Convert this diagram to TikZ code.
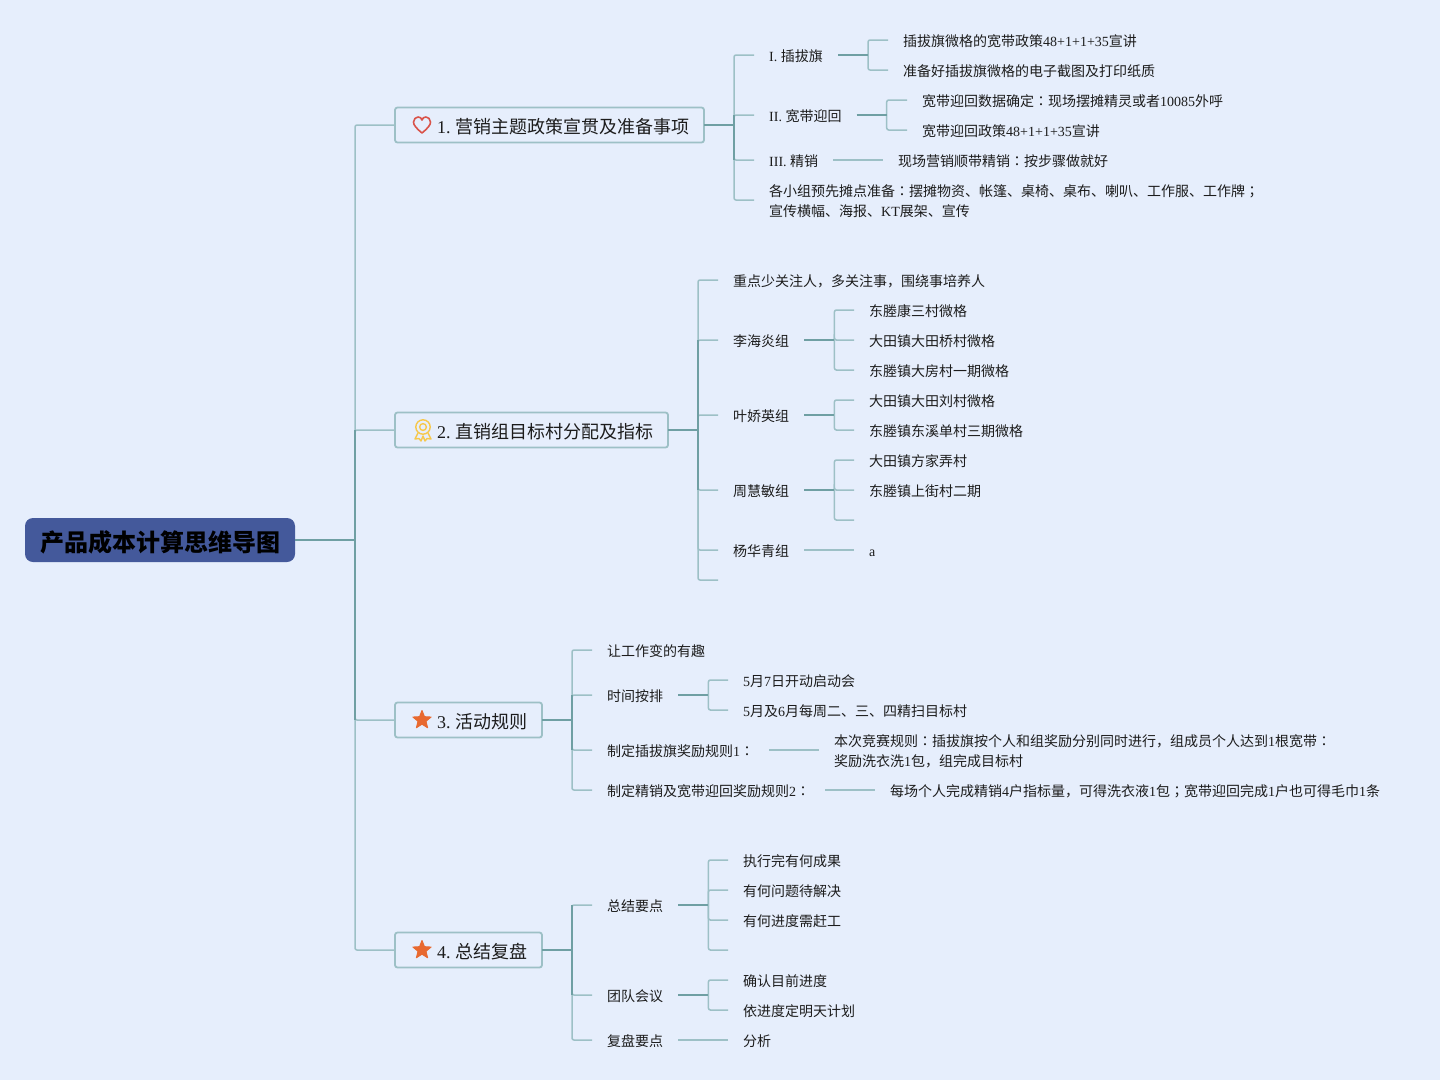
\documentclass[tikz,border=0pt]{standalone}
\usepackage{fontspec}
\setmainfont{Noto Sans CJK SC}
\newfontfamily\tnrfont{Liberation Serif}
\newfontfamily\clnfont{Noto Sans CJK TC}
\newcommand{\tn}[1]{{\tnrfont\frenchspacing #1}}
\newcommand{\cln}{{\clnfont ：}}
\newcommand{\sem}{{\clnfont ；}}
\usetikzlibrary{shapes.geometric}
\definecolor{pagebg}{HTML}{E6EEFC}
\definecolor{linklight}{HTML}{9DC0C6}
\definecolor{linkdark}{HTML}{6F9FA3}
\definecolor{rootfill}{HTML}{44599B}
\definecolor{inkcol}{HTML}{1C1C1C}
\definecolor{heartcol}{HTML}{D9534A}
\definecolor{medalcol}{HTML}{F6C84C}
\definecolor{starcol}{HTML}{E8692F}
\begin{document}
\begin{tikzpicture}[
        x=1pt,
        y=-1pt,
        text=inkcol
    ]
    \tikzset{
        rootnode/.style = {rectangle, rounded corners=8pt, fill=rootfill, text=black, anchor=west, outer sep=0pt,
            minimum height=44pt, inner xsep=15pt, inner ysep=0pt, text height=26pt, text depth=4pt,
            font=\fontsize{24}{28}\selectfont\bfseries},
        topicnode/.style = {rectangle, rounded corners=2.5pt, draw=linklight, line width=1.8pt, fill=pagebg, anchor=west, outer sep=0pt,
            minimum height=35pt, inner xsep=15pt, inner ysep=0pt, text height=20pt, text depth=2.3pt,
            font=\fontsize{18}{22}\selectfont},
        leafnode/.style = {anchor=west, inner xsep=15pt, inner ysep=0pt, text height=14pt, text depth=1.4pt,
            align=left, font=\fontsize{14}{20}\selectfont},
        twolines/.style = {text height=34pt},
        markstar/.style = {star, star points=5, star point ratio=2.3, minimum size=19pt, inner sep=0pt, fill=starcol, draw=starcol,
            line width=1pt, line join=round},
        linkl/.style = {draw=linklight, line width=1.5pt, rounded corners=2pt},
        linkd/.style = {draw=linkdark, line width=2pt},
        linkm/.style = {draw=linkdark, line width=1.5pt},
    }
    \fill[pagebg] (0,0) rectangle (1440,1080);
    \useasboundingbox (0,0) rectangle (1440,1080);
    %
    \node[rootnode, minimum width=270pt] at (25,540) (root) {产品成本计算思维导图};
    \node[topicnode] at (395,125) (ta) {\hspace{27pt}\tn{1. }营销主题政策宣贯及准备事项};
    \node[topicnode] at (395,430) (tb) {\hspace{27pt}\tn{2. }直销组目标村分配及指标};
    \node[topicnode] at (395,720) (tc) {\hspace{27pt}\tn{3. }活动规则};
    \node[topicnode] at (395,950) (td) {\hspace{27pt}\tn{4. }总结复盘};
    %
    \draw[line width=1.6pt, draw=heartcol, line join=round] (422,133) .. controls (416,128) and (413.5,125) .. (413.5,122)
        .. controls (413.5,119) and (416,117) .. (418,117) .. controls (420,117) and (421.5,118) .. (422,120)
        .. controls (422.5,118) and (424,117) .. (426,117) .. controls (428,117) and (430.5,119) .. (430.5,122)
        .. controls (430.5,125) and (428,128) .. (422,133) -- cycle;
    \draw[line width=1.4pt, draw=medalcol] (423,427) circle (7.2) (423,427) circle (3.4);
    \draw[line width=1.4pt, draw=medalcol, line join=round] (418,433) -- (415,439) -- (419,438.5) -- (421,441) -- (423,436)
        -- (425,441) -- (427,438.5) -- (431,439) -- (428,433);
    \node[markstar] at (422,720) (tcstar) {};
    \node[markstar] at (422,950) (tdstar) {};
    %
    \node[leafnode] at (754,55) (a1) {\tn{I. }插拔旗};
    \node[leafnode] at (754,115) (a2) {\tn{II. }宽带迎回};
    \node[leafnode] at (754,160) (a3) {\tn{III. }精销};
    \node[leafnode, twolines] at (754,200) (a4) {各小组预先摊点准备\cln 摆摊物资、帐篷、桌椅、桌布、喇叭、工作服、工作牌\sem\\宣传横幅、海报、\tn{KT}展架、宣传};
    \node[leafnode] at (888,40) (a11) {插拔旗微格的宽带政策\tn{48+1+1+35}宣讲};
    \node[leafnode] at (888,70) (a12) {准备好插拔旗微格的电子截图及打印纸质};
    \node[leafnode] at (907,100) (a21) {宽带迎回数据确定\cln 现场摆摊精灵或者\tn{10085}外呼};
    \node[leafnode] at (907,130) (a22) {宽带迎回政策\tn{48+1+1+35}宣讲};
    \node[leafnode] at (883,160) (a31) {现场营销顺带精销\cln 按步骤做就好};
    %
    \node[leafnode] at (718,280) (b1) {重点少关注人，多关注事，围绕事培养人};
    \node[leafnode] at (718,340) (b2) {李海炎组};
    \node[leafnode] at (718,415) (b3) {叶娇英组};
    \node[leafnode] at (718,490) (b4) {周慧敏组};
    \node[leafnode] at (718,550) (b5) {杨华青组};
    \coordinate (b6) at (718,580);
    \node[leafnode] at (854,310) (b21) {东塍康三村微格};
    \node[leafnode] at (854,340) (b22) {大田镇大田桥村微格};
    \node[leafnode] at (854,370) (b23) {东塍镇大房村一期微格};
    \node[leafnode] at (854,400) (b31) {大田镇大田刘村微格};
    \node[leafnode] at (854,430) (b32) {东塍镇东溪单村三期微格};
    \node[leafnode] at (854,460) (b41) {大田镇方家弄村};
    \node[leafnode] at (854,490) (b42) {东塍镇上街村二期};
    \coordinate (b43) at (854,520);
    \node[leafnode] at (854,550) (b51) {\tn{a}};
    %
    \node[leafnode] at (592,650) (c1) {让工作变的有趣};
    \node[leafnode] at (592,695) (c2) {时间按排};
    \node[leafnode] at (592,750) (c3) {制定插拔旗奖励规则\tn{1}\cln};
    \node[leafnode] at (592,790) (c4) {制定精销及宽带迎回奖励规则\tn{2}\cln};
    \node[leafnode] at (728,680) (c21) {\tn{5}月\tn{7}日开动启动会};
    \node[leafnode] at (728,710) (c22) {\tn{5}月及\tn{6}月每周二、三、四精扫目标村};
    \node[leafnode, twolines] at (819,750) (c31) {本次竞赛规则\cln 插拔旗按个人和组奖励分别同时进行，组成员个人达到\tn{1}根宽带\cln\\奖励洗衣洗\tn{1}包，组完成目标村};
    \node[leafnode] at (875,790) (c41) {每场个人完成精销\tn{4}户指标量，可得洗衣液\tn{1}包\sem 宽带迎回完成\tn{1}户也可得毛巾\tn{1}条};
    %
    \node[leafnode] at (592,905) (d1) {总结要点};
    \node[leafnode] at (592,995) (d2) {团队会议};
    \node[leafnode] at (592,1040) (d3) {复盘要点};
    \node[leafnode] at (728,860) (d11) {执行完有何成果};
    \node[leafnode] at (728,890) (d12) {有何问题待解决};
    \node[leafnode] at (728,920) (d13) {有何进度需赶工};
    \coordinate (d14) at (728,950);
    \node[leafnode] at (728,980) (d21) {确认目前进度};
    \node[leafnode] at (728,1010) (d22) {依进度定明天计划};
    \node[leafnode] at (728,1040) (d31) {分析};
    %
    \foreach \kid in {ta,tb,tc,td} {
        \draw[linkl] (\kid.west) -| ([xshift=60pt]root.east);
    }
    \draw[linkm] ([xshift=-40pt]tb.west) -- ([xshift=-40pt]tc.west);
    \draw[linkd] (root.east) -- ++(60,0);
    %
    \foreach \kid in {a1,a2,a3,a4} {
        \draw[linkl] (\kid.west) -| ([xshift=30pt]ta.east);
    }
    \draw[linkm] ([xshift=-20pt]a2.west) -- ([xshift=-20pt]a3.west);
    \draw[linkd] (ta.east) -- ++(30,0);
    \foreach \kid in {a11,a12} {
        \draw[linkl] (\kid.west) -| ([xshift=30pt]a1.east);
    }
    \draw[linkd] (a1.east) -- ++(30,0);
    \foreach \kid in {a21,a22} {
        \draw[linkl] (\kid.west) -| ([xshift=30pt]a2.east);
    }
    \draw[linkd] (a2.east) -- ++(30,0);
    \draw[linkl] (a3) -- (a31);
    %
    \foreach \kid in {b1,b2,b3,b4,b5,b6} {
        \draw[linkl] (\kid) -| ([xshift=30pt]tb.east);
    }
    \draw[linkm] ([xshift=-20pt]b2.west) -- ([xshift=-20pt]b4.west);
    \draw[linkd] (tb.east) -- ++(30,0);
    \foreach \kid in {b21,b22,b23} {
        \draw[linkl] (\kid.west) -| ([xshift=30pt]b2.east);
    }
    \draw[linkd] (b2.east) -- ++(30,0);
    \foreach \kid in {b31,b32} {
        \draw[linkl] (\kid.west) -| ([xshift=30pt]b3.east);
    }
    \draw[linkd] (b3.east) -- ++(30,0);
    \foreach \kid in {b41,b42,b43} {
        \draw[linkl] (\kid) -| ([xshift=30pt]b4.east);
    }
    \draw[linkd] (b4.east) -- ++(30,0);
    \draw[linkl] (b5) -- (b51);
    %
    \foreach \kid in {c1,c2,c3,c4} {
        \draw[linkl] (\kid.west) -| ([xshift=30pt]tc.east);
    }
    \draw[linkm] ([xshift=-20pt]c2.west) -- ([xshift=-20pt]c3.west);
    \draw[linkd] (tc.east) -- ++(30,0);
    \foreach \kid in {c21,c22} {
        \draw[linkl] (\kid.west) -| ([xshift=30pt]c2.east);
    }
    \draw[linkd] (c2.east) -- ++(30,0);
    \draw[linkl] (c3) -- (c31);
    \draw[linkl] (c4) -- (c41);
    %
    \foreach \kid in {d1,d2,d3} {
        \draw[linkl] (\kid.west) -| ([xshift=30pt]td.east);
    }
    \draw[linkm] ([xshift=-20pt]d1.west) -- ([xshift=-20pt]d2.west);
    \draw[linkd] (td.east) -- ++(30,0);
    \foreach \kid in {d11,d12,d13,d14} {
        \draw[linkl] (\kid) -| ([xshift=30pt]d1.east);
    }
    \draw[linkd] (d1.east) -- ++(30,0);
    \foreach \kid in {d21,d22} {
        \draw[linkl] (\kid.west) -| ([xshift=30pt]d2.east);
    }
    \draw[linkd] (d2.east) -- ++(30,0);
    \draw[linkl] (d3) -- (d31);
\end{tikzpicture}
\end{document}
